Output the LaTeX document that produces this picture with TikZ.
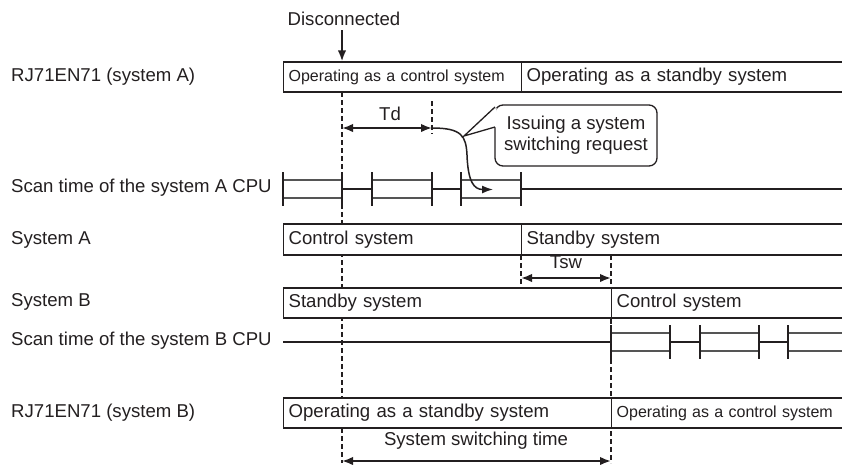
\documentclass[tikz,border=0pt]{standalone}
\usepackage{fontspec}
\setmainfont{Liberation Sans}
\usetikzlibrary{positioning, arrows.meta, calc}
\definecolor{ink}{HTML}{231F20}
\definecolor{rulegray}{HTML}{555555}
\newcommand{\bigtxt}{\fontsize{18.6}{21}\selectfont}
\newcommand{\smalltxt}{\fontsize{16}{19}\selectfont}

\tikzset{
  phase/.style={draw=ink, line width=1.3pt, fill=white, anchor=west,
    minimum height=30pt, inner xsep=5pt, inner ysep=0pt, align=left,
    text=ink, font=\bigtxt},
  rowlabel/.style={anchor=west, inner sep=0pt, text=ink, font=\bigtxt},
  guide/.style={draw=ink, line width=1.5pt, dash pattern=on 5pt off 3pt},
  dim/.style={draw=ink, line width=1.9pt, >={Latex[length=11pt,width=8.5pt]}, <->},
  scan/.style={draw=ink, line width=2pt},
  dbl/.style={draw=rulegray, line width=1.4pt},
  tick/.style={draw=ink, line width=2.2pt},
}

\begin{document}
\begin{tikzpicture}[x=1pt, y=-1pt]
  \useasboundingbox (0,0) rectangle (842,464);

  % time marks
  \coordinate (cut) at (342,92);
  \coordinate (cutend) at (342,463);
  \coordinate (req) at (432,101);
  \coordinate (reqend) at (432,134);
  \coordinate (swa) at (521,255);
  \coordinate (swaend) at (521,284);
  \coordinate (swb) at (611,255);
  \coordinate (swbend) at (611,463);
  \draw[guide] (cut) -- (cutend);
  \draw[guide] (req) -- (reqend);
  \draw[guide] (swa) -- (swaend);
  \draw[guide] (swb) -- (swbend);

  % row labels
  \node[rowlabel] (lmoda) at (11,77) {RJ71EN71 (system A)};
  \node[rowlabel] (lscana) at (11,188) {Scan time of the system A CPU};
  \node[rowlabel] (lsysa) at (11,240) {System A};
  \node[rowlabel] (lsysb) at (11,302) {System B};
  \node[rowlabel] (lscanb) at (11,341) {Scan time of the system B CPU};
  \node[rowlabel] (lmodb) at (11,413) {RJ71EN71 (system B)};

  % state bars
  \node[phase, text width=228pt, font=\smalltxt] (modactl) at (283,77) {Operating as a control system};
  \node[phase, text width=312pt] (modasby) at (521,77) {Operating as a standby system};
  \node[phase, text width=228pt, minimum height=31pt] (sysactl) at (283,239.5) {Control system};
  \node[phase, text width=312pt, minimum height=31pt] (sysasby) at (521,239.5) {Standby system};
  \node[phase, text width=318pt] (sysbsby) at (283,303) {Standby system};
  \node[phase, text width=222pt] (sysbctl) at (611,303) {Control system};
  \node[phase, text width=318pt] (modbsby) at (283,413) {Operating as a standby system};
  \node[phase, text width=222pt, font=\smalltxt] (modbctl) at (611,413) {Operating as a control system};

  % disconnection
  \node[text=ink, font=\bigtxt, inner sep=0pt] (disc) at (344,19) {Disconnected};
  \draw[ink, line width=1.9pt, -{Latex[length=11pt,width=8.5pt]}] (disc.south -| cut) ++(0,4) -- (modactl.north -| cut);

  % scan time A
  \foreach \a/\b in {283/342, 372/432, 461/521}
    \draw[dbl] (\a,180) -- (\b,180) (\a,198) -- (\b,198);
  \foreach \a/\b in {342/372, 432/461, 521/843}
    \draw[scan] (\a,189) -- (\b,189);
  \foreach \x in {283, 342, 372, 432, 461, 521}
    \draw[tick] (\x,172) -- (\x,206);

  % scan time B
  \draw[scan] (283,342) -- (611,342);
  \foreach \a/\b in {611/670, 700/759, 788/843}
    \draw[dbl] (\a,333) -- (\b,333) (\a,351) -- (\b,351);
  \foreach \a/\b in {670/700, 759/788}
    \draw[scan] (\a,342) -- (\b,342);
  \foreach \x in {611, 670, 700, 759, 788}
    \draw[tick] (\x,325) -- (\x,359);

  % Td
  \coordinate (td0) at (342,128);
  \coordinate (td1) at (432,128);
  \draw[dim] (td0) -- (td1);
  \node[text=ink, font=\bigtxt, inner sep=0pt] (tdlbl) at (390,114) {Td};

  % switching request
  \node[draw=ink, line width=1.3pt, rounded corners=8pt, text=ink,
        font=\bigtxt, align=center, minimum width=162pt, minimum height=61pt,
        inner sep=0pt] (reqnote) at (576,135.5) {Issuing a system\\switching request};
  \coordinate (reqtip) at (464,136);
  \fill[white] (reqtip) -- (496.5,108) -- (496.5,127) -- cycle;
  \draw[ink, line width=1.3pt] (495,107) -- (reqtip) -- (495,127);
  \draw[ink, line width=1.5pt, -{Latex[length=11pt,width=8pt]}]
    (td1) .. controls (462,128) and (466,136) .. (467,155)
          .. controls (468,182) and (474,189.5) .. (493,189.5);

  % Tsw
  \coordinate (tsw0) at (521,278);
  \coordinate (tsw1) at (611,278);
  \draw[dim] (tsw0) -- (tsw1);
  \node[text=ink, font=\bigtxt, inner sep=0pt] (tswlbl) at (566,262) {Tsw};

  % system switching time
  \coordinate (sst0) at (342,461);
  \coordinate (sst1) at (611,461);
  \draw[dim] (sst0) -- (sst1);
  \node[text=ink, font=\bigtxt, inner sep=0pt] (sstlbl) at (476,441) {System switching time};
\end{tikzpicture}
\end{document}
